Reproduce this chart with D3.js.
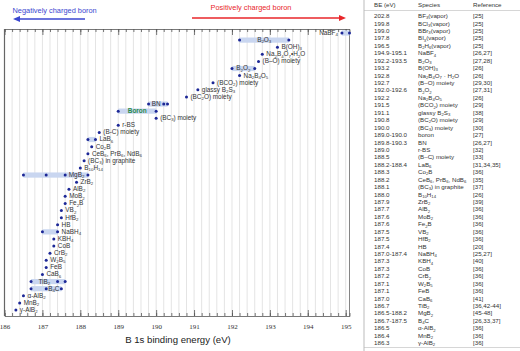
<!doctype html>
<html lang="en">
<head>
<meta charset="UTF-8">
<title>B 1s binding energies</title>
<script src="https://cdn.jsdelivr.net/npm/d3@7"></script>
<style>
	body { margin: 0; background: #fff; }
	svg { display: block; font-family: Arial, "Liberation Sans", sans-serif; }
	.grid line { stroke: #e4e4e4; stroke-width: 1; }
	.lbl { font-size: 6.4px; fill: #333; }
	.tbl { font-size: 6.2px; fill: #333; }
	.tick-lbl { font-family: "Liberation Serif", "DejaVu Serif", serif; font-size: 7px; fill: #333; }
</style>
</head>
<body>
<script>
	// ---- plot rows (top to bottom) ----
	var plotNames = ['NaBF_4', 'B_2O_3', 'B(OH)_3', 'Na_2B_4O_7•H_2O', '(B–O) moiety', 'B_2O_2',
		'Na_2B_4O_5', '(BCO_2) moiety', 'glassy B_2S_3', '(BC_2O) moiety', 'BN', 'Boron',
		'(BC_3) moiety', 'r-BS', '(B-C) moiety', 'LaB_6', 'Co_2B', 'CeB_6, PrB_6, NdB_6',
		'(BC_3) in graphite', 'B_10H_14', 'MgB_2', 'ZrB_2', 'AlB_2', 'MoB_2', 'Fe_2B', 'VB_2',
		'HfB_2', 'HB', 'NaBH_4', 'KBH_4', 'CoB', 'CrB_2', 'W_2B_5', 'FeB', 'CaB_6', 'TiB_2',
		'B_4C', 'α-AlB_2', 'MnB_2', 'γ-AlB_2'];

	// measured binding energies per row (eV)
	var plotValues = [[194.9, 195.1], [192.2, 193.5], [193.2], [192.8], [192.7], [192.0, 192.6],
		[192.2], [191.5], [191.1], [190.8], [189.8, 190.2, 190.3], [189.0, 190.0],
		[190.0], [189.0], [188.5], [188.2, 188.4], [188.3], [188.2],
		[188.1], [188.0], [186.5, 187.1, 187.6, 188.2], [187.9], [187.7], [187.6], [187.6], [187.5],
		[187.5], [187.4], [187.0, 187.4], [187.3], [187.3], [187.2], [187.1], [187.1], [187.0], [186.7, 187.4, 187.6],
		[186.7, 187.1, 187.5], [186.5], [186.4], [186.3]];

	// where the label goes: 'right', 'left' or gap index between two dots
	var labelPlace = {
		'NaBF_4': 'left', 'B_2O_3': 0, 'B_2O_2': 0, 'BN': 0, 'Boron': 0,
		'MgB_2': 2, 'TiB_2': 0, 'B_4C': 1
	};

	// ---- table ----
	var tableBE = ['202.8', '199.8', '199.0', '197.8', '196.5', '194.9-195.1', '192.2-193.5', '193.2',
		'192.8', '192.7', '192.0-192.6', '192.2', '191.5', '191.1', '190.8', '190.0', '189.0-190.0',
		'189.8-190.3', '189.0', '188.5', '188.2-188.4', '188.3', '188.2', '188.1', '188.0', '187.9',
		'187.7', '187.6', '187.6', '187.5', '187.5', '187.4', '187.0-187.4', '187.3', '187.3', '187.2',
		'187.1', '187.1', '187.0', '186.7', '186.5-188.2', '186.7-187.5', '186.5', '186.4', '186.3'];
	var tableSpecies = ['BF_3(vapor)', 'BCl_3(vapor)', 'BBr_3(vapor)', 'BI_3(vapor)', 'B_2H_6(vapor)',
		'NaBF_4', 'B_2O_3', 'B(OH)_3', 'Na_2B_4O_7 · H_2O', '(B–O) moiety', 'B_2O_2', 'Na_2B_4O_5',
		'(BCO_2) moiety', 'glassy B_2S_3', '(BC_2O) moiety', '(BC_3) moiety', 'boron', 'BN', 'r-BS',
		'(B–C) moiety', 'LaB_6', 'Co_2B', 'CeB_6, PrB_6, NdB_6', '(BC_3) in graphite', 'B_10H_14',
		'ZrB_2', 'AlB_2', 'MoB_2', 'Fe_2B', 'VB_2', 'HfB_2', 'HB', 'NaBH_4', 'KBH_4', 'CoB', 'CrB_2',
		'W_2B_5', 'FeB', 'CaB_6', 'TiB_2', 'MgB_2', 'B_4C', 'α-AlB_2', 'MnB_2', 'γ-AlB_2'];
	var tableRefs = ['[25]', '[25]', '[25]', '[25]', '[25]', '[26,27]', '[27,28]', '[26]', '[26]',
		'[29,30]', '[27,31]', '[26]', '[29]', '[38]', '[29]', '[30]', '[27]', '[26,27]', '[32]', '[33]',
		'[31,34,35]', '[36]', '[35]', '[37]', '[26]', '[39]', '[36]', '[36]', '[36]', '[36]', '[36]',
		'[20]', '[25,27]', '[40]', '[36]', '[36]', '[36]', '[36]', '[41]', '[36,42-44]', '[45-48]',
		'[26,33,37]', '[36]', '[36]', '[36]'];

	var xDomain = [186, 195.1],
		majorTicks = d3.range(186, 196, 1);

	var W = 520, H = 351,
		plot = {left: 4.5, right: 349.5, top: 29, bottom: 316};

	var svg = d3.select('body').append('svg')
		.attr('width', W)
		.attr('height', H);

	var x = d3.scaleLinear().domain(xDomain).range([plot.left, plot.right]);
	var y = d3.scalePoint().domain(plotNames).range([33, 310]);

	/**
	* write text with _N subscripts as tspans
	*/
	var richText = function(sel, str, size) {
		var down = false;
		str.split(/(_\d+)/).forEach(function(p) {
			if (!p) return;
			var sub = p[0] === '_';
			var t = sel.append('tspan').text(sub ? p.slice(1) : p);
			if (sub) {
				t.attr('font-size', size * 0.68);
				if (!down) { t.attr('dy', size * 0.2); down = true; }
			} else if (down) {
				t.attr('dy', -size * 0.2); down = false;
			}
		});
	};

	// grid lines every 0.2 eV
	var minorTicks = d3.range(0, 46).map(function(i) { return 186 + i * 0.2; });
	svg.append('g').attr('class', 'grid')
		.selectAll('line')
		.data(minorTicks.filter(function(d) { return d > 186.01; }))
		.enter().append('line')
		.attr('x1', function(d) { return x(d); })
		.attr('x2', function(d) { return x(d); })
		.attr('y1', plot.top)
		.attr('y2', plot.bottom);

	// axes (ticks inward, top and bottom)
	svg.append('g').attr('transform', 'translate(0,' + plot.bottom + ')')
		.call(d3.axisBottom(x).tickValues(minorTicks).tickSize(-3).tickFormat(''));
	svg.append('g').attr('transform', 'translate(0,' + plot.bottom + ')')
		.call(d3.axisBottom(x).tickValues(majorTicks).tickSize(-6).tickPadding(8).tickFormat(d3.format('d')))
		.call(function(g) {
			g.select('.domain').remove();
			g.selectAll('text').attr('class', 'tick-lbl').attr('fill', null);
		});
	svg.append('g').attr('transform', 'translate(0,' + plot.top + ')')
		.call(d3.axisTop(x).tickValues(minorTicks).tickSize(-3).tickFormat(''));
	svg.append('g').attr('transform', 'translate(0,' + plot.top + ')')
		.call(d3.axisTop(x).tickValues(majorTicks).tickSize(-6).tickFormat(''))
		.call(function(g) { g.select('.domain').remove(); });
	svg.selectAll('.domain, .tick line').attr('stroke', '#555').attr('stroke-width', 0.8);

	// frame sides
	svg.append('line').attr('x1', plot.left).attr('x2', plot.left)
		.attr('y1', plot.top).attr('y2', plot.bottom).attr('stroke', '#666').attr('stroke-width', 1.2);
	svg.append('line').attr('x1', plot.right).attr('x2', plot.right)
		.attr('y1', plot.top).attr('y2', plot.bottom).attr('stroke', '#666').attr('stroke-width', 0.8);

	// rows
	var rows = svg.append('g').selectAll('g')
		.data(plotNames.map(function(n, i) { return {name: n, vals: plotValues[i]}; }))
		.enter().append('g')
		.attr('transform', function(d) { return 'translate(0,' + y(d.name) + ')'; });

	rows.filter(function(d) { return d.vals.length > 1; })
		.append('rect')
		.attr('x', function(d) { return x(d3.min(d.vals)); })
		.attr('width', function(d) { return x(d3.max(d.vals)) - x(d3.min(d.vals)); })
		.attr('y', -2.6)
		.attr('height', 5.2)
		.attr('fill', '#c9d6f0');

	rows.selectAll('circle')
		.data(function(d) { return d.vals; })
		.enter().append('circle')
		.attr('cx', function(v) { return x(v); })
		.attr('r', 1.5)
		.attr('fill', '#1c2796');

	rows.each(function(d) {
		var g = d3.select(this),
			place = labelPlace[d.name] === undefined ? 'right' : labelPlace[d.name],
			t = g.append('text').attr('class', 'lbl').attr('dy', '0.3em');
		if (place === 'right') {
			t.attr('x', x(d3.max(d.vals)) + 4);
		} else if (place === 'left') {
			t.attr('x', x(d3.min(d.vals)) - 4).attr('text-anchor', 'end');
		} else {
			t.attr('x', (x(d.vals[place]) + x(d.vals[place + 1])) / 2).attr('text-anchor', 'middle');
		}
		if (d.name === 'Boron') {
			t.style('fill', '#2a8a4c').style('font-weight', 'bold');
		}
		richText(t, d.name, 6.4);
	});

	// axis title
	svg.append('text')
		.attr('x', (plot.left + plot.right) / 2 + 1)
		.attr('y', 343)
		.attr('text-anchor', 'middle')
		.style('font-size', '9.6px')
		.style('fill', '#222')
		.text('B 1s binding energy (eV)');

	// direction arrows
	var arrow = function(x1, x2, yy, col) {
		var dir = x2 > x1 ? 1 : -1;
		svg.append('line').attr('x1', x1).attr('x2', x2 - dir * 5)
			.attr('y1', yy).attr('y2', yy).attr('stroke', col).attr('stroke-width', 1.3);
		svg.append('path')
			.attr('d', 'M' + x2 + ',' + yy + 'L' + (x2 - dir * 7) + ',' + (yy - 3) +
				'L' + (x2 - dir * 7) + ',' + (yy + 3) + 'Z')
			.attr('fill', col);
	};
	svg.append('text').attr('x', 12.5).attr('y', 12.5)
		.style('font-size', '7.4px').style('fill', '#3a46d0')
		.text('Negatively charged boron');
	arrow(85, 13, 19, '#3a46d0');
	svg.append('text').attr('x', 210.5).attr('y', 10)
		.style('font-size', '7.4px').style('fill', '#e8262a')
		.text('Positively charged boron');
	arrow(192, 346, 18, '#e8262a');

	// table
	var tbl = svg.append('g'),
		rowY = d3.scalePoint().domain(d3.range(tableBE.length)).range([16, 343]),
		colX = {be: 374, sp: 418, ref: 473};

	tbl.append('line').attr('x1', 364).attr('x2', 364).attr('y1', 0).attr('y2', H)
		.attr('stroke', '#bbb').attr('stroke-width', 1);
	tbl.append('line').attr('x1', 364).attr('x2', W).attr('y1', 10.5).attr('y2', 10.5)
		.attr('stroke', '#bbb').attr('stroke-width', 0.6);
	tbl.append('line').attr('x1', 364).attr('x2', W).attr('y1', 347.5).attr('y2', 347.5)
		.attr('stroke', '#bbb').attr('stroke-width', 0.6);

	[['BE (eV)', colX.be], ['Species', colX.sp], ['Reference', colX.ref]].forEach(function(h) {
		tbl.append('text').attr('class', 'tbl').attr('x', h[1]).attr('y', 5).attr('dy', '0.35em').text(h[0]);
	});

	tableBE.forEach(function(be, i) {
		var yy = rowY(i);
		tbl.append('text').attr('class', 'tbl').attr('x', colX.be).attr('y', yy).attr('dy', '0.35em').text(be);
		var s = tbl.append('text').attr('class', 'tbl').attr('x', colX.sp).attr('y', yy).attr('dy', '0.35em');
		richText(s, tableSpecies[i], 6.2);
		tbl.append('text').attr('class', 'tbl').attr('x', colX.ref).attr('y', yy).attr('dy', '0.35em').text(tableRefs[i]);
	});
</script>
</body>
</html>
